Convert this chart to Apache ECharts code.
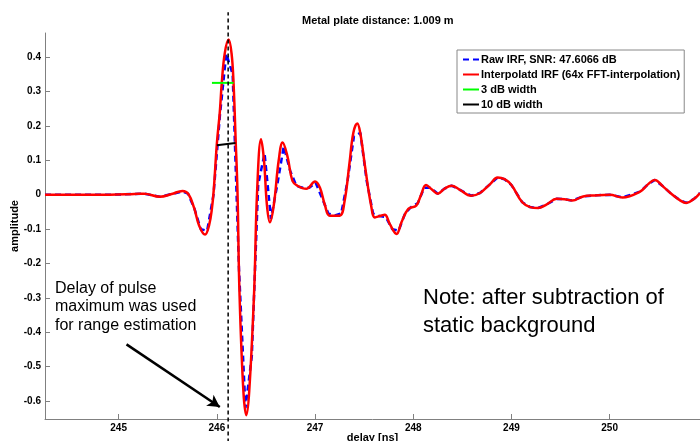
<!DOCTYPE html>
<html>
<head>
<meta charset="utf-8">
<script src="https://cdn.jsdelivr.net/npm/echarts@6/dist/echarts.min.js"></script>
<style>
  html, body { margin: 0; padding: 0; background: #fff; }
  #irfChart { width: 700px; height: 441px; }
</style>
</head>
<body>
<div id="irfChart"></div>
<script>
// interpolated IRF (64x FFT)
const delayNs = [244.25, 244.60, 244.91, 245.16, 245.26, 245.42, 245.54, 245.65, 245.71, 245.77,
  245.82, 245.88, 245.92, 245.95, 245.97, 246.00, 246.03, 246.05, 246.08, 246.12,
  246.15, 246.17, 246.19, 246.21, 246.23, 246.27, 246.30, 246.33, 246.38, 246.41,
  246.45, 246.48, 246.51, 246.54, 246.58, 246.63, 246.67, 246.72, 246.77, 246.82,
  246.91, 247.00, 247.05, 247.10, 247.15, 247.25, 247.30, 247.35, 247.39, 247.43,
  247.46, 247.51, 247.57, 247.61, 247.66, 247.71, 247.76, 247.83, 247.88, 247.95,
  248.03, 248.08, 248.13, 248.19, 248.25, 248.32, 248.39, 248.47, 248.59, 248.68,
  248.78, 248.86, 248.93, 249.00, 249.11, 249.19, 249.27, 249.36, 249.46, 249.54,
  249.62, 249.73, 249.85, 250.00, 250.13, 250.31, 250.39, 250.46, 250.54, 250.63,
  250.71, 250.78, 250.86, 250.92];
const irfInterp = [0, 0, 0, 0.002, 0.003, -0.006, 0.002, 0.011, 0.002, -0.04,
  -0.09, -0.116, -0.09, -0.04, 0.02, 0.148, 0.24, 0.324, 0.41, 0.451,
  0.41, 0.324, 0.17, 0.01, -0.28, -0.57, -0.641, -0.57, -0.28, 0.01,
  0.161, 0.10, -0.03, -0.08, -0.03, 0.10, 0.152, 0.11, 0.04, 0.026,
  0.017, 0.038, 0.02, -0.03, -0.061, -0.061, -0.02, 0.09, 0.18, 0.207,
  0.18, 0.08, -0.03, -0.066, -0.062, -0.058, -0.085, -0.114, -0.08, -0.041,
  -0.032, 0.0, 0.028, 0.015, 0.003, 0.018, 0.026, 0.015, -0.003, 0.005,
  0.03, 0.05, 0.045, 0.028, -0.022, -0.036, -0.039, -0.028, -0.012, -0.013,
  -0.017, -0.005, -0.002, 0.0, -0.008, 0.009, 0.03, 0.043, 0.025, 0.002,
  -0.015, -0.024, -0.012, 0.005];

// raw IRF samples
const rawDelayNs = [244.25, 244.60, 244.91, 245.16, 245.26, 245.42, 245.54, 245.65,
  245.706, 245.771, 245.836, 245.901, 245.966, 246.031, 246.096, 246.161, 246.226, 246.291,
  246.356, 246.421, 246.486, 246.551, 246.616, 246.681, 246.746, 246.811, 246.876, 246.941,
  247.006, 247.071, 247.136, 247.201, 247.266, 247.331, 247.396, 247.461, 247.526, 247.591,
  247.656, 247.721, 247.786, 247.851, 247.916, 247.981, 248.046, 248.111, 248.176,
  248.25, 248.32, 248.39, 248.47, 248.59, 248.68, 248.78, 248.86, 248.93, 249.00,
  249.11, 249.19, 249.27, 249.36, 249.46, 249.54, 249.62, 249.73, 249.85, 250.00,
  250.13, 250.31, 250.39, 250.46, 250.54, 250.63, 250.71, 250.78, 250.86, 250.92];
const irfRaw = [0, 0, 0, 0.002, 0.003, -0.006, 0.002, 0.009,
  0.003, -0.04, -0.10, -0.105, 0.0, 0.23, 0.41, 0.35, -0.22, -0.62,
  -0.47, 0.03, 0.12, -0.07, 0.03, 0.14, 0.07, 0.025, 0.02, 0.02,
  0.035, -0.01, -0.055, -0.06, -0.055, 0.04, 0.17, 0.18, 0.04, -0.055,
  -0.062, -0.065, -0.10, -0.105, -0.055, -0.035, -0.025, 0.02, 0.02,
  0.003, 0.018, 0.026, 0.015, -0.003, 0.005, 0.03, 0.05, 0.045, 0.028,
  -0.022, -0.036, -0.039, -0.028, -0.012, -0.013, -0.017, -0.005, -0.002, 0.0,
  -0.008, 0.009, 0.03, 0.043, 0.025, 0.002, -0.015, -0.024, -0.012, 0.005];

// pulse width markers
const width3dBX = [245.95, 246.17];
const width3dBY = [0.325, 0.325];
const width10dBX = [246.00, 246.19];
const width10dBY = [0.144, 0.150];

const peakDelay = 246.115;
const peakLineY = [-0.72, 0.53];
const arrowFrom = [245.08, -0.435];
const arrowTo = [246.03, -0.617];

const xTicks = [245, 246, 247, 248, 249, 250];
const yTicks = [-0.6, -0.5, -0.4, -0.3, -0.2, -0.1, 0, 0.1, 0.2, 0.3, 0.4];

const zip = (xs, ys) => xs.map((x, i) => [x, ys[i]]);

const rawName = 'Raw IRF, SNR: 47.6066 dB';
const interpName = 'Interpolatd IRF (64x FFT-interpolation)';

const myChart = echarts.init(document.getElementById('irfChart'), null, {renderer: 'canvas'});
const font = 'Arial, "Liberation Sans", sans-serif';
const axisColor = '#808080';

myChart.setOption({
  animation: false,
  textStyle: {fontFamily: font},
  title: {
    text: 'Metal plate distance: 1.009 m',
    left: 302,
    top: 15,
    padding: 0,
    textStyle: {fontSize: 11, fontWeight: 'bold', color: '#000', fontFamily: font}
  },
  legend: {
    orient: 'vertical',
    left: 457,
    top: 50,
    padding: [4, 4, 3, 5],
    itemGap: 4,
    itemWidth: 16,
    itemHeight: 9,
    borderColor: '#888',
    borderWidth: 1,
    borderRadius: 0,
    backgroundColor: '#fff',
    itemStyle: {opacity: 0},
    data: [rawName, interpName, '3 dB width', '10 dB width'],
    textStyle: {fontSize: 11, fontWeight: 'bold', color: '#000', fontFamily: font, padding: [0, 0, 0, -3]}
  },
  grid: {left: 45, right: 0, top: 33, bottom: 22, containLabel: false, outerBoundsMode: 'none'},
  xAxis: {
    type: 'value',
    min: 244.25,
    max: 250.92,
    name: 'delay [ns]',
    nameLocation: 'middle',
    nameGap: 13,
    nameMoveOverlap: false,
    nameTextStyle: {fontSize: 11, fontWeight: 'bold', color: '#000', fontFamily: font},
    axisLine: {show: true, onZero: false, lineStyle: {color: axisColor, width: 1}},
    axisTick: {show: true, inside: true, length: 5, lineStyle: {color: axisColor}, customValues: xTicks},
    axisLabel: {fontSize: 10, fontWeight: 'bold', color: '#000', margin: 4, customValues: xTicks},
    splitLine: {show: false}
  },
  yAxis: {
    type: 'value',
    min: -0.652,
    max: 0.47,
    name: 'amplitude',
    nameLocation: 'middle',
    nameGap: 25,
    nameMoveOverlap: false,
    nameTextStyle: {fontSize: 11, fontWeight: 'bold', color: '#000', fontFamily: font},
    axisLine: {show: true, onZero: false, lineStyle: {color: axisColor, width: 1}},
    axisTick: {show: true, inside: true, length: 5, lineStyle: {color: axisColor}, customValues: yTicks},
    axisLabel: {fontSize: 10, fontWeight: 'bold', color: '#000', margin: 4, customValues: yTicks},
    splitLine: {show: false}
  },
  series: [
    {
      name: rawName,
      type: 'line',
      data: zip(rawDelayNs, irfRaw),
      symbol: 'none',
      lineStyle: {color: '#0000ff', width: 2.5, type: [6, 4]},
      itemStyle: {color: '#0000ff'},
      z: 2
    },
    {
      name: interpName,
      type: 'line',
      data: zip(delayNs, irfInterp),
      smooth: 0.4,
      symbol: 'none',
      lineStyle: {color: '#ff0000', width: 2.5},
      itemStyle: {color: '#ff0000'},
      z: 3
    },
    {
      name: '3 dB width',
      type: 'line',
      data: zip(width3dBX, width3dBY),
      symbol: 'none',
      lineStyle: {color: '#00ff00', width: 2},
      itemStyle: {color: '#00ff00'},
      z: 4
    },
    {
      name: '10 dB width',
      type: 'line',
      data: zip(width10dBX, width10dBY),
      symbol: 'none',
      lineStyle: {color: '#000000', width: 2},
      itemStyle: {color: '#000000'},
      z: 4
    },
    {
      name: 'peak',
      type: 'line',
      data: peakLineY.map(y => [peakDelay, y]),
      symbol: 'none',
      clip: false,
      silent: true,
      lineStyle: {color: '#000', width: 1.5, type: [4, 3]},
      z: 5,
      markLine: {
        silent: true,
        animation: false,
        label: {show: false},
        lineStyle: {color: '#000', width: 2.5, type: 'solid'},
        symbolSize: [10, 12],
        data: [[
          {coord: arrowFrom, symbol: 'none'},
          {coord: arrowTo, symbol: 'arrow'}
        ]]
      }
    }
  ],
  graphic: [
    {
      type: 'text',
      left: 55,
      top: 279,
      style: {
        text: 'Delay of pulse\nmaximum was used\nfor range estimation',
        font: '16px Arial, "Liberation Sans", sans-serif',
        lineHeight: 18.5,
        fill: '#000'
      }
    },
    {
      type: 'text',
      left: 423,
      top: 284,
      style: {
        text: 'Note: after subtraction of\nstatic background',
        font: '22px Arial, "Liberation Sans", sans-serif',
        lineHeight: 28,
        fill: '#000'
      }
    }
  ]
});
</script>
</body>
</html>
